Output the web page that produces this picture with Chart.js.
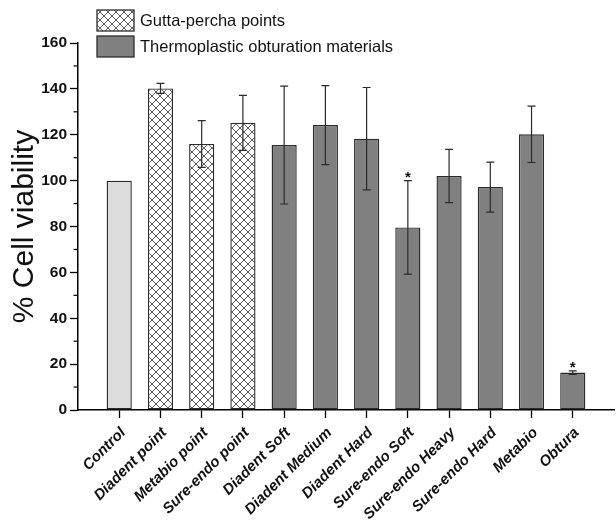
<!DOCTYPE html>
<html>
<head>
<meta charset="utf-8">
<script src="https://cdn.jsdelivr.net/npm/chart.js@4/dist/chart.umd.min.js"></script>
<style>
  html, body { margin: 0; padding: 0; background: #fff; }
  #wrap { width: 616px; height: 530px; position: relative; }
</style>
</head>
<body>
<div id="wrap"><canvas id="c" width="616" height="530"></canvas></div>
<script>
const categories = ['Control', 'Diadent point', 'Metabio point', 'Sure-endo point', 'Diadent Soft', 'Diadent Medium', 'Diadent Hard', 'Sure-endo Soft', 'Sure-endo Heavy', 'Sure-endo Hard', 'Metabio', 'Obtura'];
const viability = [100, 140.2, 116, 125.2, 115.5, 124.2, 118.3, 79.6, 102, 97.2, 120.2, 16.3];
const errorSD = [0, 2.2, 10.2, 12, 25.7, 17.2, 22.3, 20.4, 11.6, 10.9, 12.3, 0.8];
const groups = ['control', 'gutta', 'gutta', 'gutta', 'thermo', 'thermo', 'thermo', 'thermo', 'thermo', 'thermo', 'thermo', 'thermo'];
const significant = [false, false, false, false, false, false, false, true, false, false, false, true];
const legendLabels = ['Gutta-percha points', 'Thermoplastic obturation materials'];
const legendGroups = ['gutta', 'thermo'];
const yMin = 0, yMax = 160, yStep = 20;

// crosshatch pattern
function makeHatch() {
  const s = 8;
  const pc = document.createElement('canvas');
  pc.width = s; pc.height = s;
  const p = pc.getContext('2d');
  p.fillStyle = '#ffffff';
  p.fillRect(0, 0, s, s);
  p.strokeStyle = '#4a4a4a';
  p.lineWidth = 0.9;
  p.beginPath();
  p.moveTo(0, 0); p.lineTo(s, s);
  p.moveTo(s, 0); p.lineTo(0, s);
  p.stroke();
  return document.getElementById('c').getContext('2d').createPattern(pc, 'repeat');
}
const hatch = makeHatch();
const fills = { control: '#dcdcdc', gutta: hatch, thermo: '#808080' };

const errorBars = {
  id: 'errorBars',
  afterDatasetsDraw(chart) {
    const ctx = chart.ctx;
    const xs = chart.scales.x, ys = chart.scales.y;
    ctx.save();
    ctx.strokeStyle = '#2b2b2b';
    ctx.lineWidth = 1.2;
    viability.forEach((v, i) => {
      const e = errorSD[i];
      const x = xs.getPixelForValue(i);
      if (e > 0) {
        const yt = ys.getPixelForValue(v + e);
        const yb = ys.getPixelForValue(v - e);
        ctx.beginPath();
        ctx.moveTo(x, yt); ctx.lineTo(x, yb);
        ctx.moveTo(x - 4, yt); ctx.lineTo(x + 4, yt);
        ctx.moveTo(x - 4, yb); ctx.lineTo(x + 4, yb);
        ctx.stroke();
      }
      if (significant[i]) {
        ctx.fillStyle = '#111';
        ctx.font = 'bold 15px "Liberation Sans", Arial, sans-serif';
        ctx.textAlign = 'center';
        ctx.textBaseline = 'alphabetic';
        ctx.fillText('*', x, ys.getPixelForValue(v + e) + 1);
      }
    });
    // minor y ticks
    ctx.strokeStyle = '#000';
    ctx.lineWidth = 1.2;
    for (let t = yMin + yStep / 2; t < yMax; t += yStep) {
      const y = ys.getPixelForValue(t);
      ctx.beginPath();
      ctx.moveTo(ys.right - 4.5, y); ctx.lineTo(ys.right, y);
      ctx.stroke();
    }
    ctx.restore();
  }
};

const customLegend = {
  id: 'customLegend',
  afterDraw(chart) {
    const ctx = chart.ctx;
    ctx.save();
    legendLabels.forEach((lab, k) => {
      const top = 10 + k * 26;
      ctx.fillStyle = fills[legendGroups[k]];
      ctx.fillRect(97, top, 37, 21);
      ctx.strokeStyle = '#2b2b2b';
      ctx.lineWidth = 1.3;
      ctx.strokeRect(97, top, 37, 21);
      ctx.fillStyle = '#111';
      ctx.font = '16.5px "Liberation Sans", Arial, sans-serif';
      ctx.textAlign = 'left';
      ctx.textBaseline = 'middle';
      ctx.fillText(lab, 140, top + 11);
    });
    ctx.restore();
  }
};

new Chart(document.getElementById('c'), {
  type: 'bar',
  data: {
    datasets: [{
      data: viability.map((v, i) => ({ x: i, y: v })),
      backgroundColor: groups.map(g => fills[g]),
      borderColor: '#2b2b2b',
      borderWidth: 1.4,
      borderSkipped: false,
      barPercentage: 0.61,
      categoryPercentage: 1
    }]
  },
  options: {
    responsive: false,
    animation: false,
    layout: { padding: { top: 43, right: 2, left: 0, bottom: 0 } },
    plugins: { legend: { display: false }, tooltip: { enabled: false } },
    scales: {
      x: {
        type: 'linear',
        offset: false,
        min: -1,
        max: categories.length,
        afterFit(scale) { scale.height = 120; scale.paddingLeft = 0; scale.paddingRight = 0; },
        afterBuildTicks(scale) {
          const t = [];
          for (let i = -1; i <= categories.length; i++) t.push({ value: i });
          scale.ticks = t;
        },
        ticks: {
          autoSkip: false,
          maxRotation: 45,
          minRotation: 45,
          padding: 6,
          labelOffset: 4,
          color: '#111',
          font: { family: '"Liberation Sans", Arial, sans-serif', size: 15, weight: 'bold', style: 'italic' },
          callback: (v) => (v >= 0 && v < categories.length) ? categories[v] : ''
        },
        grid: {
          offset: false,
          drawOnChartArea: false,
          drawTicks: true,
          tickLength: 8,
          tickWidth: 1.3,
          tickColor: (c) => (c.tick && c.tick.value >= 0 && c.tick.value < categories.length) ? '#000' : 'rgba(0,0,0,0)'
        },
        border: { display: true, color: '#000', width: 1.5 }
      },
      y: {
        min: yMin,
        max: yMax,
        afterFit(scale) { scale.width = 78; scale.paddingTop = 0; scale.paddingBottom = 0; },
        ticks: {
          stepSize: yStep,
          padding: 3,
          color: '#111',
          font: { family: '"Liberation Sans", Arial, sans-serif', size: 15.5, weight: 'bold' }
        },
        grid: {
          drawOnChartArea: false,
          drawTicks: true,
          tickLength: 8,
          tickWidth: 1.3,
          tickColor: '#000'
        },
        border: { display: true, color: '#000', width: 1.5 },
        title: {
          display: true,
          text: '% Cell viability',
          color: '#111',
          padding: { top: 7, bottom: 0 },
          font: { family: '"Liberation Sans", Arial, sans-serif', size: 30, weight: 'normal' }
        }
      }
    }
  },
  plugins: [errorBars, customLegend]
});
</script>
</body>
</html>
